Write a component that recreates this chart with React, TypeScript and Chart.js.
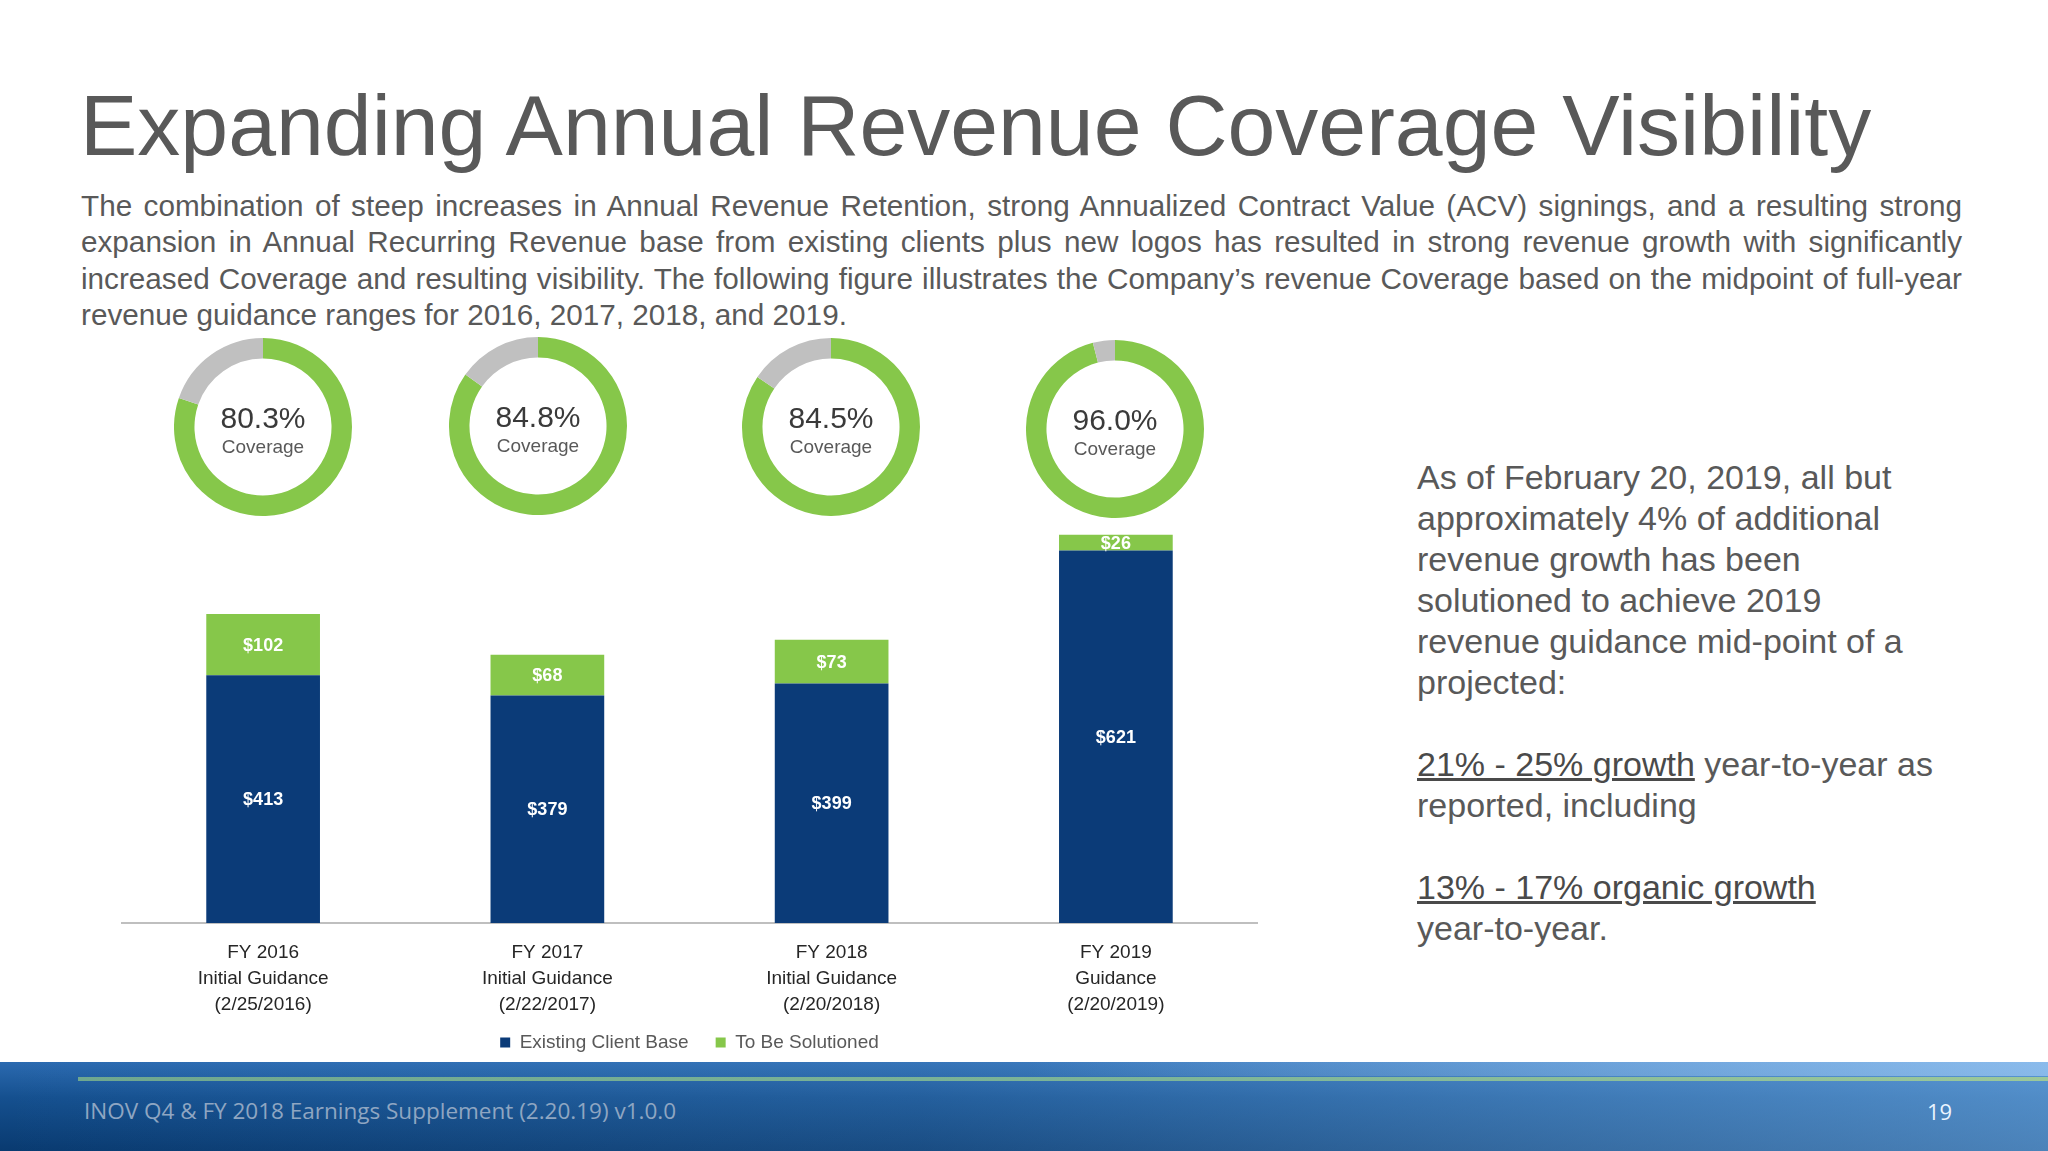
import React, { useEffect, useRef } from "react";
import { Chart, registerables } from "chart.js";

Chart.register(...registerables);

// ---------- data ----------
const categories: string[][] = [
  ["FY 2016", "Initial Guidance", "(2/25/2016)"],
  ["FY 2017", "Initial Guidance", "(2/22/2017)"],
  ["FY 2018", "Initial Guidance", "(2/20/2018)"],
  ["FY 2019", "Guidance", "(2/20/2019)"],
];
const existingClientBase = [413, 379, 399, 621];
const toBeSolutioned = [102, 68, 73, 26];
const coverage = [80.3, 84.8, 84.5, 96.0];
const seriesNames = ["Existing Client Base", "To Be Solutioned"];

const titleText = "Expanding Annual Revenue Coverage Visibility";
const introLines = [
  "The combination of steep increases in Annual Revenue Retention, strong Annualized Contract Value (ACV) signings, and a resulting strong",
  "expansion in Annual Recurring Revenue base from existing clients plus new logos has resulted in strong revenue growth with significantly",
  "increased Coverage and resulting visibility. The following figure illustrates the Company\u2019s revenue Coverage based on the midpoint of full-year",
  "revenue guidance ranges for 2016, 2017, 2018, and 2019.",
];
const footerText = "INOV Q4 & FY 2018 Earnings Supplement (2.20.19) v1.0.0";
const pageNumber = "19";

// ---------- style ----------
const FONT = '"Liberation Sans", Arial, Helvetica, sans-serif';
const BLUE = "#0B3B78";
const GREEN = "#86C74A";
const GRAY_RING = "#C0C0C0";
const TEXT_GRAY = "#595959";

const donutLayout = [
  { cx: 263, cy: 427 },
  { cx: 538, cy: 426 },
  { cx: 831, cy: 427 },
  { cx: 1115, cy: 429 },
];
const DONUT_SIZE = 178;

Chart.defaults.font.family = FONT;

const barLabelPlugin = {
  id: "barLabelPlugin",
  afterDatasetsDraw(chart: any) {
    const ctx = chart.ctx;
    ctx.save();
    ctx.font = `bold 18px ${FONT}`;
    ctx.fillStyle = "#FFFFFF";
    ctx.textAlign = "center";
    ctx.textBaseline = "middle";
    chart.data.datasets.forEach((ds: any, di: number) => {
      const meta = chart.getDatasetMeta(di);
      meta.data.forEach((el: any, i: number) => {
        const p = el.getProps(["x", "y", "base"], true);
        ctx.fillText("$" + ds.data[i], p.x, (p.y + p.base) / 2 + 1);
      });
    });
    ctx.restore();
  },
};

function Donut({ value, cx, cy }: { value: number; cx: number; cy: number }) {
  const ref = useRef<HTMLCanvasElement | null>(null);
  useEffect(() => {
    if (!ref.current) return;
    const chart = new Chart(ref.current, {
      type: "doughnut",
      data: {
        labels: ["Coverage", "Remaining"],
        datasets: [
          {
            data: [value, Math.round((100 - value) * 10) / 10],
            backgroundColor: [GREEN, GRAY_RING],
            borderWidth: 0,
          },
        ],
      },
      options: {
        responsive: false,
        animation: false,
        devicePixelRatio: 1,
        cutout: "77%",
        layout: { padding: 0 },
        plugins: { legend: { display: false }, tooltip: { enabled: false } },
      },
    });
    return () => chart.destroy();
  }, [value]);
  return (
    <>
      <canvas
        ref={ref}
        width={DONUT_SIZE}
        height={DONUT_SIZE}
        style={{
          position: "absolute",
          left: cx - DONUT_SIZE / 2,
          top: cy - DONUT_SIZE / 2,
          width: DONUT_SIZE,
          height: DONUT_SIZE,
        }}
      />
      <div
        style={{
          position: "absolute",
          left: cx - 100,
          width: 200,
          top: cy - 9 - 20,
          height: 40,
          lineHeight: "40px",
          textAlign: "center",
          fontSize: 30,
          color: "#3A3A3A",
          fontFamily: FONT,
        }}
      >
        {value.toFixed(1)}%
      </div>
      <div
        style={{
          position: "absolute",
          left: cx - 100,
          width: 200,
          top: cy + 20 - 12,
          height: 24,
          lineHeight: "24px",
          textAlign: "center",
          fontSize: 19,
          color: TEXT_GRAY,
          fontFamily: FONT,
        }}
      >
        Coverage
      </div>
    </>
  );
}

function BarChart() {
  const ref = useRef<HTMLCanvasElement | null>(null);
  useEffect(() => {
    if (!ref.current) return;
    const chart = new Chart(ref.current, {
      type: "bar",
      data: {
        labels: categories,
        datasets: [
          {
            label: seriesNames[0],
            data: existingClientBase,
            backgroundColor: BLUE,
            borderWidth: 0,
            barPercentage: 0.4,
            categoryPercentage: 1.0,
          },
          {
            label: seriesNames[1],
            data: toBeSolutioned,
            backgroundColor: GREEN,
            borderWidth: 0,
            barPercentage: 0.4,
            categoryPercentage: 1.0,
          },
        ],
      },
      options: {
        responsive: false,
        animation: false,
        devicePixelRatio: 1,
        layout: { padding: 0 },
        plugins: {
          legend: {
            position: "bottom",
            labels: {
              boxWidth: 10,
              boxHeight: 10,
              padding: 27,
              color: TEXT_GRAY,
              font: { size: 19, family: FONT },
            },
          },
          tooltip: { enabled: false },
        },
        scales: {
          x: {
            stacked: true,
            grid: { display: false, drawTicks: false },
            border: { display: true, color: "#BFBFBF", width: 2 },
            ticks: {
              padding: 17,
              color: "#262626",
              autoSkip: false,
              maxRotation: 0,
              font: { size: 19, lineHeight: 26 / 19, family: FONT },
            },
            afterFit: (s: any) => {
              s.height = 83;
              // let the three-line labels run past the fixed axis box
              s._computeLabelArea = () => null;
            },
          },
          y: { stacked: true, display: false, min: 0, max: 700 },
        },
      },
      plugins: [barLabelPlugin],
    });
    return () => chart.destroy();
  }, []);
  return (
    <canvas
      ref={ref}
      width={1137}
      height={559}
      style={{ position: "absolute", left: 121, top: 503, width: 1137, height: 559 }}
    />
  );
}

export default function App() {
  return (
    <div
      style={{
        position: "absolute",
        left: 0,
        top: 0,
        width: 2048,
        height: 1151,
        overflow: "hidden",
        background: "#FFFFFF",
        fontFamily: FONT,
      }}
    >
      <div
        style={{
          position: "absolute",
          left: 80,
          top: 75,
          height: 100,
          lineHeight: "100px",
          fontSize: 86,
          color: TEXT_GRAY,
          whiteSpace: "nowrap",
        }}
      >
        {titleText}
      </div>

      {introLines.map((line, i) => (
        <div
          key={i}
          style={{
            position: "absolute",
            left: 81,
            width: 1881,
            top: 206 + i * 36.3 - 18,
            height: 36,
            lineHeight: "36px",
            fontSize: 29.7,
            color: TEXT_GRAY,
            whiteSpace: "nowrap",
            textAlign: i < 3 ? "justify" : "left",
            textAlignLast: i < 3 ? "justify" : "left",
          } as any}
        >
          {line}
        </div>
      ))}

      {coverage.map((v, i) => (
        <Donut key={i} value={v} cx={donutLayout[i].cx} cy={donutLayout[i].cy} />
      ))}

      <BarChart />

      <div
        style={{
          position: "absolute",
          left: 1417,
          top: 457,
          width: 600,
          fontSize: 34,
          lineHeight: "41px",
          color: TEXT_GRAY,
          whiteSpace: "nowrap",
        }}
      >
        As of February 20, 2019, all but
        <br />
        approximately 4% of additional
        <br />
        revenue growth has been
        <br />
        solutioned to achieve 2019
        <br />
        revenue guidance mid-point of a
        <br />
        projected:
        <br />
        <br />
        <span style={{ textDecoration: "underline", color: "#4A4A4A" }}>21% - 25% growth</span> year-to-year as
        <br />
        reported, including
        <br />
        <br />
        <span style={{ textDecoration: "underline", color: "#4A4A4A" }}>13% - 17% organic growth</span>
        <br />
        year-to-year.
      </div>

      {/* footer band */}
      <div
        style={{
          position: "absolute",
          left: 0,
          top: 1062,
          width: 2048,
          height: 89,
          background:
            "linear-gradient(to right, rgba(140,190,240,0) 0%, rgba(120,180,235,0.15) 45%, rgba(130,190,245,0.55) 100%), linear-gradient(to bottom, #2B6AB0 0%, #15508F 40%, #093A70 100%)",
        }}
      />
      <div
        style={{
          position: "absolute",
          left: 0,
          top: 1062,
          width: 2048,
          height: 14,
          background:
            "linear-gradient(to right, rgba(255,255,255,0) 0%, rgba(255,255,255,0) 50%, rgba(170,210,250,0.6) 100%)",
        }}
      />
      <div
        style={{
          position: "absolute",
          left: 78,
          top: 1077,
          width: 1970,
          height: 4,
          background: "linear-gradient(to right, #6FA78F 0%, #7DB598 55%, #9CC89A 100%)",
        }}
      />
      <div
        style={{
          position: "absolute",
          left: 84,
          top: 1096,
          height: 30,
          lineHeight: "30px",
          fontSize: 22.5,
          fontFamily: '"Open Sans", sans-serif',
          color: "#8FA6C2",
          whiteSpace: "nowrap",
        }}
      >
        {footerText}
      </div>
      <div
        style={{
          position: "absolute",
          left: 1927,
          top: 1096,
          height: 30,
          lineHeight: "30px",
          fontSize: 22,
          fontFamily: '"Open Sans", sans-serif',
          color: "#EAF4FF",
          whiteSpace: "nowrap",
        }}
      >
        {pageNumber}
      </div>
    </div>
  );
}
